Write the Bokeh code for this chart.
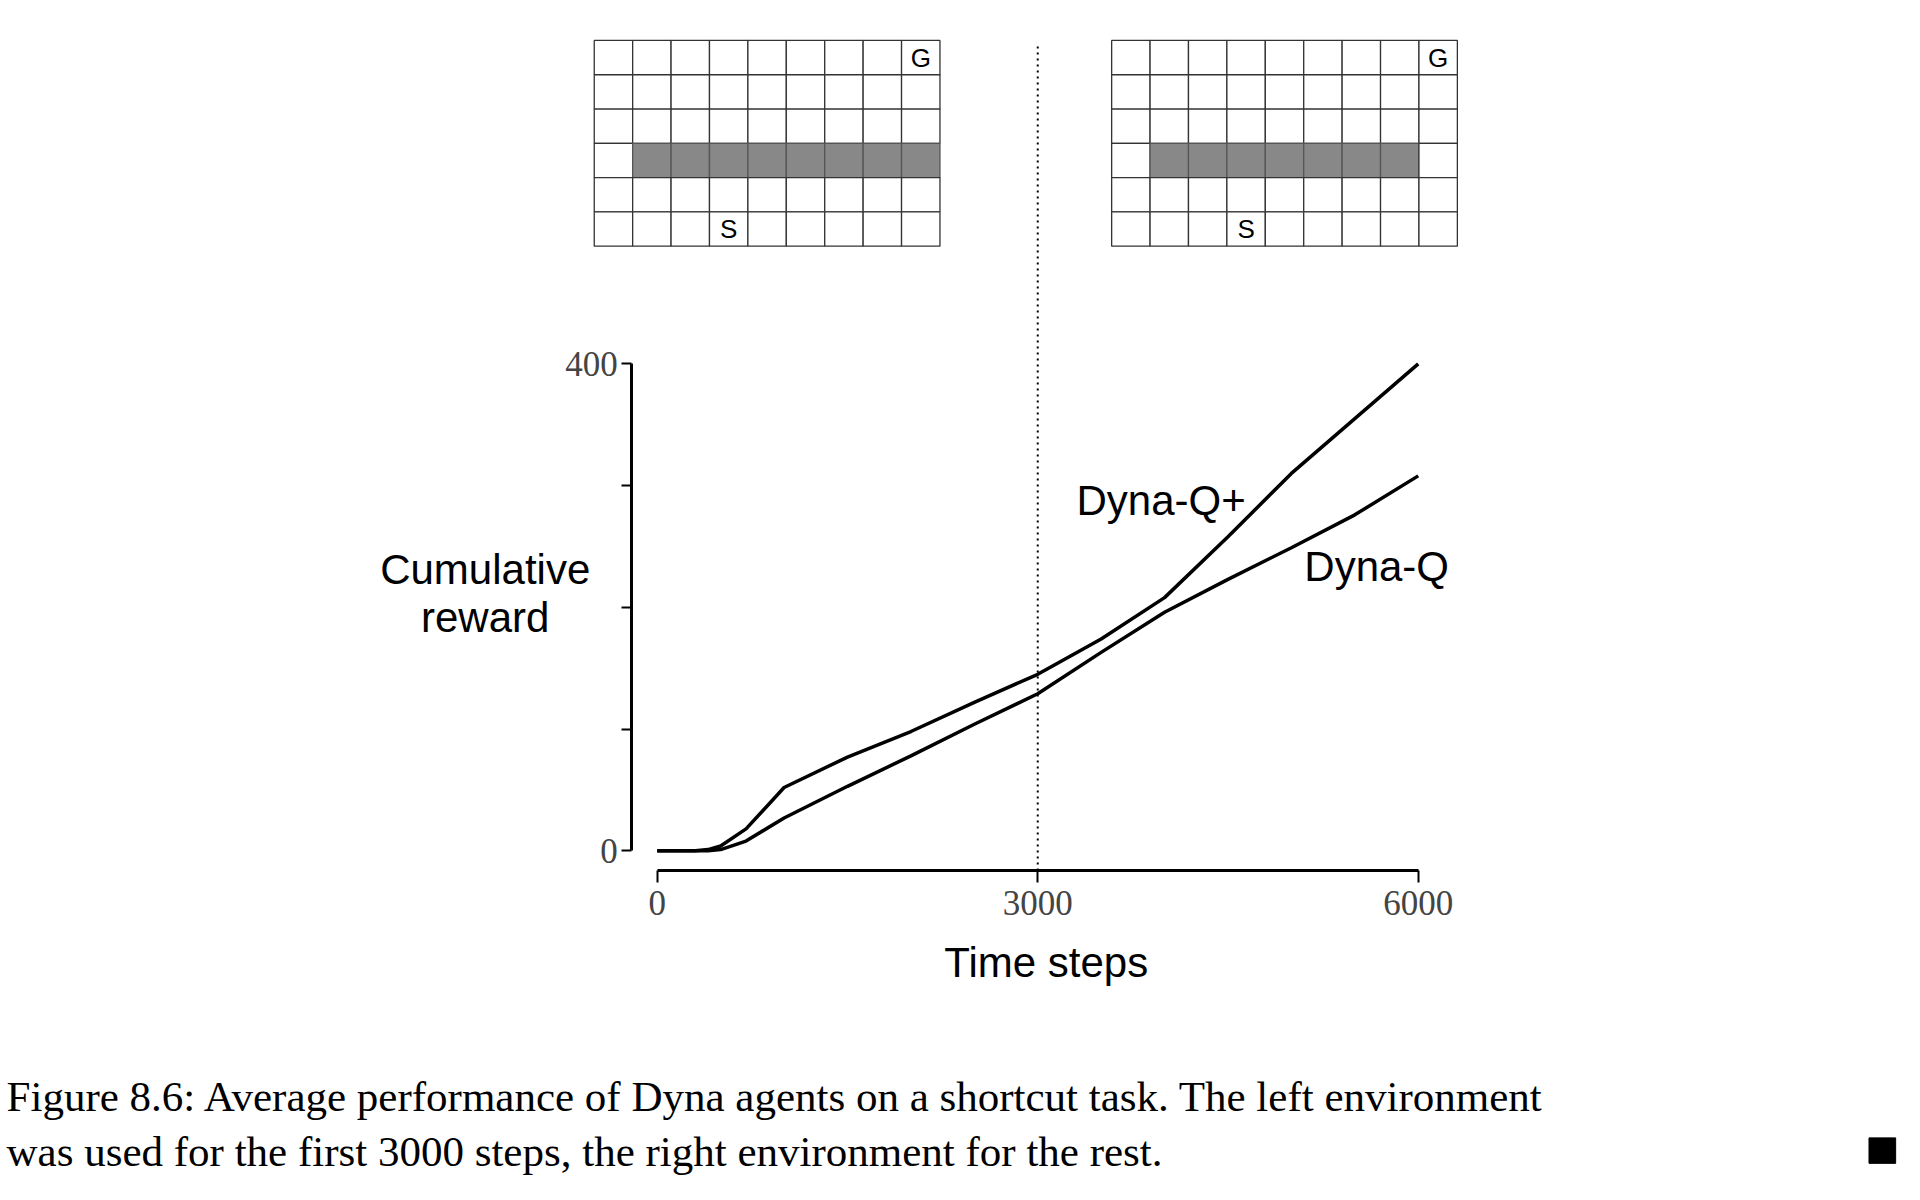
from bokeh.plotting import figure
from bokeh.models import LinearAxis, FixedTicker, Range1d
from bokeh.core.properties import value
from bokeh.embed import file_html
from bokeh.resources import INLINE

steps = [0, 300, 400, 500, 700, 1000, 1500, 2000, 2500, 3000, 3500, 4000, 4500, 5000, 5500, 6000]
dyna_q_plus = [0, 0, 1, 4, 18, 52, 77, 98, 122, 145, 174, 208, 258, 310, 355, 400]
dyna_q = [0, 0, 0, 1, 8, 27, 53, 78, 104, 129, 163, 196, 223, 249, 276, 308]
x_ticks = [0, 3000, 6000]
y_ticks = [0, 100, 200, 300, 400]
y_tick_labels = {100: "", 200: "", 300: ""}
switch_step = 3000

S = 1900 / 1568
W, H = 1900, int(975 * S)
# layout helpers: image pixel -> data coords
def dx(px): return (px - 542) * 6000 / 628
def dy(py): return (702 - py) * 400 / 402

p = figure(width=W, height=H, output_backend="svg", toolbar_location=None,
           x_range=Range1d(dx(0), dx(1568)), y_range=Range1d(dy(975), dy(0)),
           min_border=0, x_axis_type=None, y_axis_type=None)
p.outline_line_color = None
p.grid.visible = False
p.background_fill_color = "white"

ax = LinearAxis(fixed_location=dy(718), bounds=(0, 6000), ticker=FixedTicker(ticks=x_ticks),
                major_label_text_font="Liberation Serif", major_label_text_font_size=f"{int(29*S)}px",
                axis_line_width=3, major_tick_line_width=2, major_tick_in=0, major_tick_out=int(10*S),
                minor_tick_line_color=None, major_label_standoff=int(8*S))
p.add_layout(ax, "below")
ay = LinearAxis(fixed_location=dx(521), bounds=(0, 400), ticker=FixedTicker(ticks=y_ticks),
                major_label_overrides=y_tick_labels,
                major_label_text_font="Liberation Serif", major_label_text_font_size=f"{int(29*S)}px",
                axis_line_width=3, major_tick_line_width=2, major_tick_in=0, major_tick_out=int(9*S),
                minor_tick_line_color=None, major_label_standoff=int(4*S))
p.add_layout(ay, "left")

p.line(steps, dyna_q_plus, line_color="black", line_width=3.5)
p.line(steps, dyna_q, line_color="black", line_width=3.5)
p.segment(x0=[switch_step], y0=[dy(38)], x1=[switch_step], y1=[dy(718)],
          line_color="black", line_width=2, line_dash="2 4")

# gridworlds
def grid(x0px, wall_cols, g_col=9, s_col=4):
    cw, rh = 31.7, 28.3
    y0px = 33
    for r in range(6):
        for c in range(9):
            wall = (r == 3 and c in wall_cols)
            p.quad(left=dx(x0px + c*cw), right=dx(x0px + (c+1)*cw),
                   top=dy(y0px + r*rh), bottom=dy(y0px + (r+1)*rh),
                   fill_color="#888888" if wall else "white",
                   line_color="#333333" if not wall else "#555555", line_width=1.3)
    p.text(x=[dx(x0px + (g_col-0.5)*cw)], y=[dy(y0px + 0.5*rh)], text=["G"],
           text_align="center", text_baseline="middle", text_font=value("Liberation Sans"),
           text_font_size=f"{int(22*S)}px")
    p.text(x=[dx(x0px + (s_col-0.5)*cw)], y=[dy(y0px + 5.5*rh)], text=["S"],
           text_align="center", text_baseline="middle", text_font=value("Liberation Sans"),
           text_font_size=f"{int(22*S)}px")

grid(490, range(1, 9))
grid(917, range(1, 8))

sans = value("Liberation Sans")
fs = f"{int(35*S)}px"
p.text(x=[dx(888)], y=[dy(413)], text=["Dyna-Q+"], text_baseline="middle", text_font=sans, text_font_size=fs)
p.text(x=[dx(1076)], y=[dy(467)], text=["Dyna-Q"], text_baseline="middle", text_font=sans, text_font_size=fs)
p.text(x=[dx(400)] * 2, y=[dy(470), dy(509)], text=["Cumulative", "reward"], text_align="center",
       text_baseline="middle", text_font=sans, text_font_size=fs)
p.text(x=[dx(863)], y=[dy(794)], text=["Time steps"], text_align="center", text_baseline="middle",
       text_font=sans, text_font_size=fs)

serif = value("Liberation Serif")
cfs = f"{int(36*S)}px"
p.text(x=[dx(5)], y=[dy(905)], text=["Figure 8.6: Average performance of Dyna agents on a shortcut task. The left environment"],
       text_baseline="middle", text_font=serif, text_font_size=cfs)
p.text(x=[dx(5)], y=[dy(950)], text=["was used for the first 3000 steps, the right environment for the rest."],
       text_baseline="middle", text_font=serif, text_font_size=cfs)
p.quad(left=[dx(1542)], right=[dx(1564)], top=[dy(939)], bottom=[dy(960)], fill_color="black", line_color="black")

open("out.html", "w").write(file_html(p, INLINE))
